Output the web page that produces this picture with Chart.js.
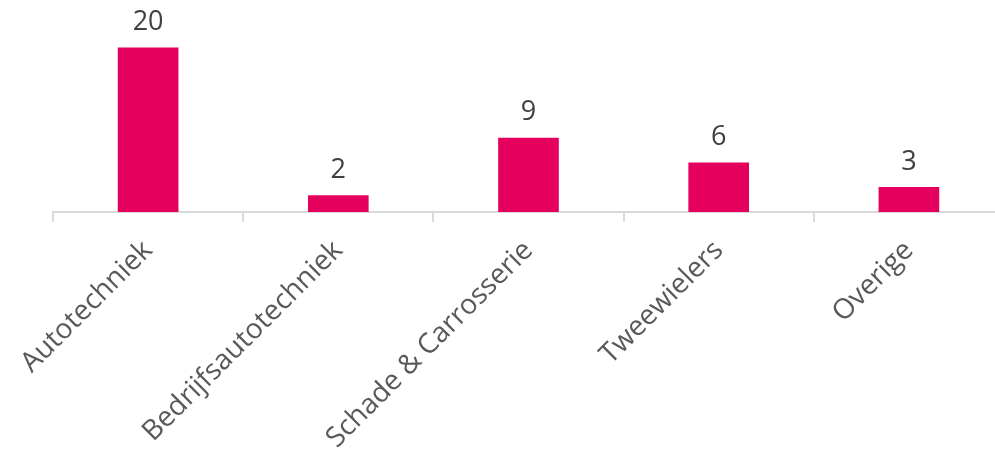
<!DOCTYPE html>
<html><head><meta charset="utf-8">
<script src="https://cdn.jsdelivr.net/npm/chart.js@4/dist/chart.umd.min.js"></script>
<style>
html,body{margin:0;padding:0;background:#fff;overflow:hidden;width:995px;height:449px;}
#wrap{width:1006px;height:449px;}
</style></head><body>
<div id="wrap"><canvas id="c" width="1006" height="449"></canvas></div>
<script>
const categories = ["Autotechniek", "Bedrijfsautotechniek", "Schade & Carrosserie", "Tweewielers", "Overige"];
const values = [20, 2, 9, 6, 3];

const valueLabels = {
  id: 'valueLabels',
  afterDatasetsDraw(chart) {
    const ctx = chart.ctx;
    const meta = chart.getDatasetMeta(0);
    ctx.save();
    ctx.font = '27px "Open Sans"';
    ctx.fillStyle = '#404040';
    ctx.textAlign = 'center';
    ctx.textBaseline = 'bottom';
    meta.data.forEach((bar, i) => {
      ctx.fillText(String(values[i]), bar.x, bar.y - 12);
    });
    ctx.restore();
  }
};

new Chart(document.getElementById('c'), {
  type: 'bar',
  data: {
    labels: categories,
    datasets: [{
      data: values,
      backgroundColor: '#E6005E',
      barThickness: 60
    }]
  },
  options: {
    responsive: false,
    animation: false,
    layout: { padding: { top: 15, left: 53, right: 2, bottom: 0 } },
    plugins: { legend: { display: false }, tooltip: { enabled: false } },
    scales: {
      y: { display: false, min: 0, max: 24 },
      x: {
        afterFit: (s) => { s.height = 237; },
        border: { color: '#d9d9d9', width: 2 },
        grid: { offset: true, drawOnChartArea: false, drawTicks: true, tickLength: 10, color: '#d9d9d9', lineWidth: 2 },
        ticks: { color: '#595959', font: { family: '"Open Sans"', size: 28 }, minRotation: 45, maxRotation: 45, padding: 12 }
      }
    }
  },
  plugins: [valueLabels]
});
</script></body></html>
